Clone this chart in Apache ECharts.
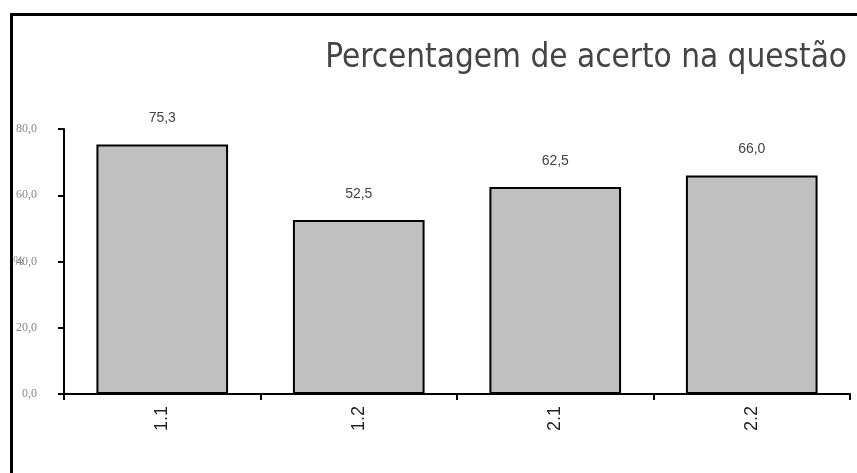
<!DOCTYPE html>
<html><head><meta charset="utf-8">
<script src="https://cdn.jsdelivr.net/npm/echarts@6/dist/echarts.min.js"></script>
<style>html,body{margin:0;padding:0;background:#fff}#c{width:857px;height:473px}</style>
</head><body><div id="c"></div>
<script>
const categories = ['1.1', '1.2', '2.1', '2.2'];
const values = [75.3, 52.5, 62.5, 66.0];
const yTicks = [0, 20, 40, 60, 80];
const titleText = 'Percentagem de acerto na questão';

const chart = echarts.init(document.getElementById('c'));
chart.setOption({
  animation: false,
  backgroundColor: '#fff',
  title: {
    text: titleText, right: 5, top: 37,
    textStyle: { fontFamily: '"DejaVu Sans Condensed", "Liberation Sans Narrow", sans-serif', fontSize: 33, fontWeight: 'normal', color: '#444' }
  },
  graphic: [{
    type: 'polyline', shape: { points: [[11.5, 480], [11.5, 14.5], [870, 14.5]] },
    style: { fill: 'none', stroke: '#000', lineWidth: 3 }, silent: true, z: 100
  }],
  grid: { left: 64, right: 7, top: 129, bottom: 79, containLabel: false, outerBoundsMode: 'none' },
  xAxis: {
    type: 'category', data: categories,
    axisLine: { lineStyle: { color: '#000', width: 2 } },
    axisTick: { show: true, length: 6, lineStyle: { color: '#000', width: 2 } },
    axisLabel: { rotate: 90, color: '#222', fontSize: 18, margin: 12, fontFamily: 'Liberation Sans, Arial, sans-serif' }
  },
  yAxis: {
    type: 'value', min: 0, max: 80, interval: 20,
    name: '%', nameLocation: 'middle', nameGap: 40, nameRotate: 0, nameMoveOverlap: false,
    nameTextStyle: { color: '#999', fontSize: 12 },
    splitLine: { show: false },
    axisLine: { show: true, lineStyle: { color: '#000', width: 2 } },
    axisTick: { show: true, length: 6, lineStyle: { color: '#000', width: 2 } },
    axisLabel: {
      color: '#888', fontSize: 12, margin: 27, fontFamily: 'Liberation Serif, serif',
      formatter: v => yTicks.includes(v) ? v.toFixed(1).replace('.', ',') : ''
    }
  },
  series: [{
    type: 'bar', data: values, barCategoryGap: '33%',
    itemStyle: { color: '#c0c0c0', borderColor: '#000', borderWidth: 2 },
    label: {
      show: true, position: 'top', distance: 19, color: '#444', fontSize: 14,
      fontFamily: 'Liberation Sans, Arial, sans-serif',
      formatter: p => p.value.toFixed(1).replace('.', ',')
    }
  }]
});
</script></body></html>
